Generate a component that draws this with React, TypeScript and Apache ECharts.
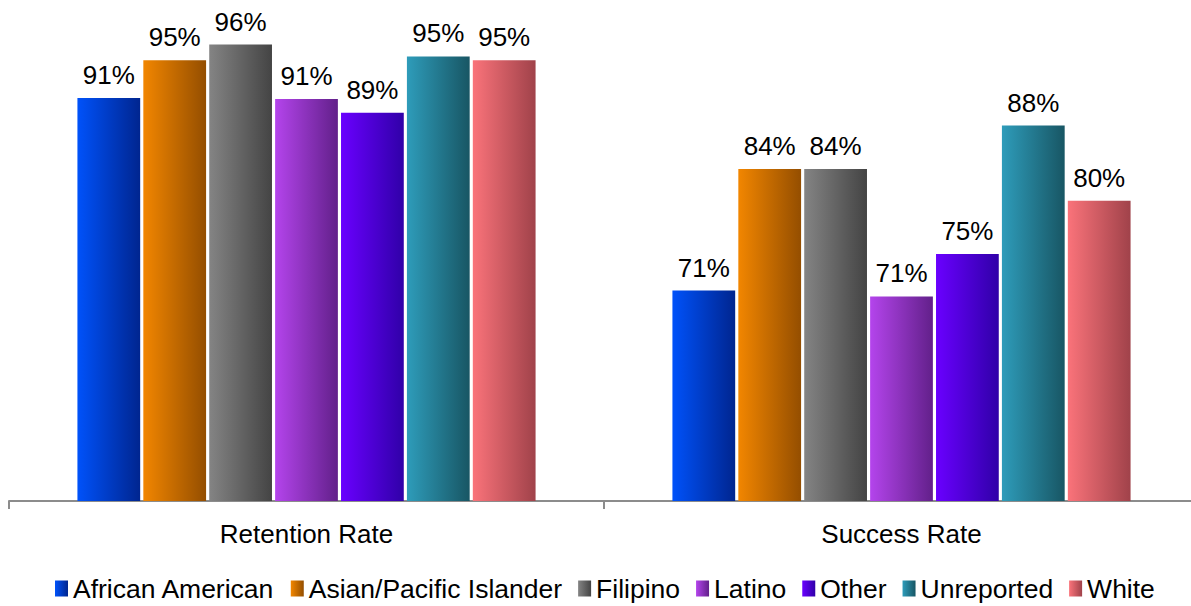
import React, { useEffect, useRef } from "react";
import * as echarts from "echarts";

const categories = ["Retention Rate", "Success Rate"];
const seriesNames = [
  "African American",
  "Asian/Pacific Islander",
  "Filipino",
  "Latino",
  "Other",
  "Unreported",
  "White",
];
const africanAmerican = [90.8, 71.3];
const asianPacific = [94.6, 83.6];
const filipino = [96.2, 83.6];
const latino = [90.7, 70.7];
const other = [89.3, 75.0];
const unreported = [95.0, 88.0];
const white = [94.6, 80.4];
const seriesValues = [africanAmerican, asianPacific, filipino, latino, other, unreported, white];

const gradientStops: [string, string][] = [
  ["#0052FA", "#00258F"],
  ["#F28600", "#944E00"],
  ["#848484", "#444444"],
  ["#B444EC", "#62208A"],
  ["#6A00FF", "#3000A8"],
  ["#2E9CBA", "#185664"],
  ["#FA737A", "#A0424A"],
];

const FONT = "'Liberation Sans', Arial, sans-serif";

export default function App() {
  const ref = useRef<HTMLDivElement>(null);
  useEffect(() => {
    if (!ref.current) return;
    const chart = echarts.init(ref.current, null, { renderer: "svg" });
    const grad = (c: [string, string]) =>
      new echarts.graphic.LinearGradient(0, 0, 1, 0, [
        { offset: 0, color: c[0] },
        { offset: 1, color: c[1] },
      ]);
    chart.setOption({
      animation: false,
      backgroundColor: "#ffffff",
      textStyle: { fontFamily: FONT },
      grid: { left: 9, right: 0, top: 7, bottom: 105, containLabel: false },
      legend: {
        left: 55,
        top: 575,
        padding: 0,
        itemWidth: 13,
        itemHeight: 16,
        itemGap: 16,
        icon: "rect",
        textStyle: { fontSize: 26.5, color: "#000", fontFamily: FONT },
        data: seriesNames,
      },
      xAxis: {
        type: "category",
        data: categories,
        axisLine: { show: true, lineStyle: { color: "#8c8c8c", width: 2 } },
        axisTick: { show: true, length: 8, lineStyle: { color: "#8c8c8c", width: 2 } },
        axisLabel: { fontSize: 26, color: "#000", margin: 20, fontFamily: FONT },
      },
      yAxis: {
        type: "value",
        min: 50,
        max: 100,
        show: false,
        splitLine: { show: false },
      },
      series: seriesNames.map((name, i) => ({
        name,
        type: "bar",
        data: seriesValues[i],
        barGap: "5%",
        barCategoryGap: "23%",
        itemStyle: { color: grad(gradientStops[i]) },
        label: {
          show: true,
          position: "top",
          distance: 10,
          fontSize: 26,
          color: "#000",
          fontFamily: FONT,
          formatter: (p: any) => Math.round(p.value) + "%",
        },
      })),
    });
    return () => chart.dispose();
  }, []);
  return (
    <div
      style={{
        position: "absolute",
        left: 0,
        top: 0,
        width: 1191,
        height: 606,
        overflow: "hidden",
      }}
    >
      <div ref={ref} style={{ width: 1199, height: 606 }} />
    </div>
  );
}
